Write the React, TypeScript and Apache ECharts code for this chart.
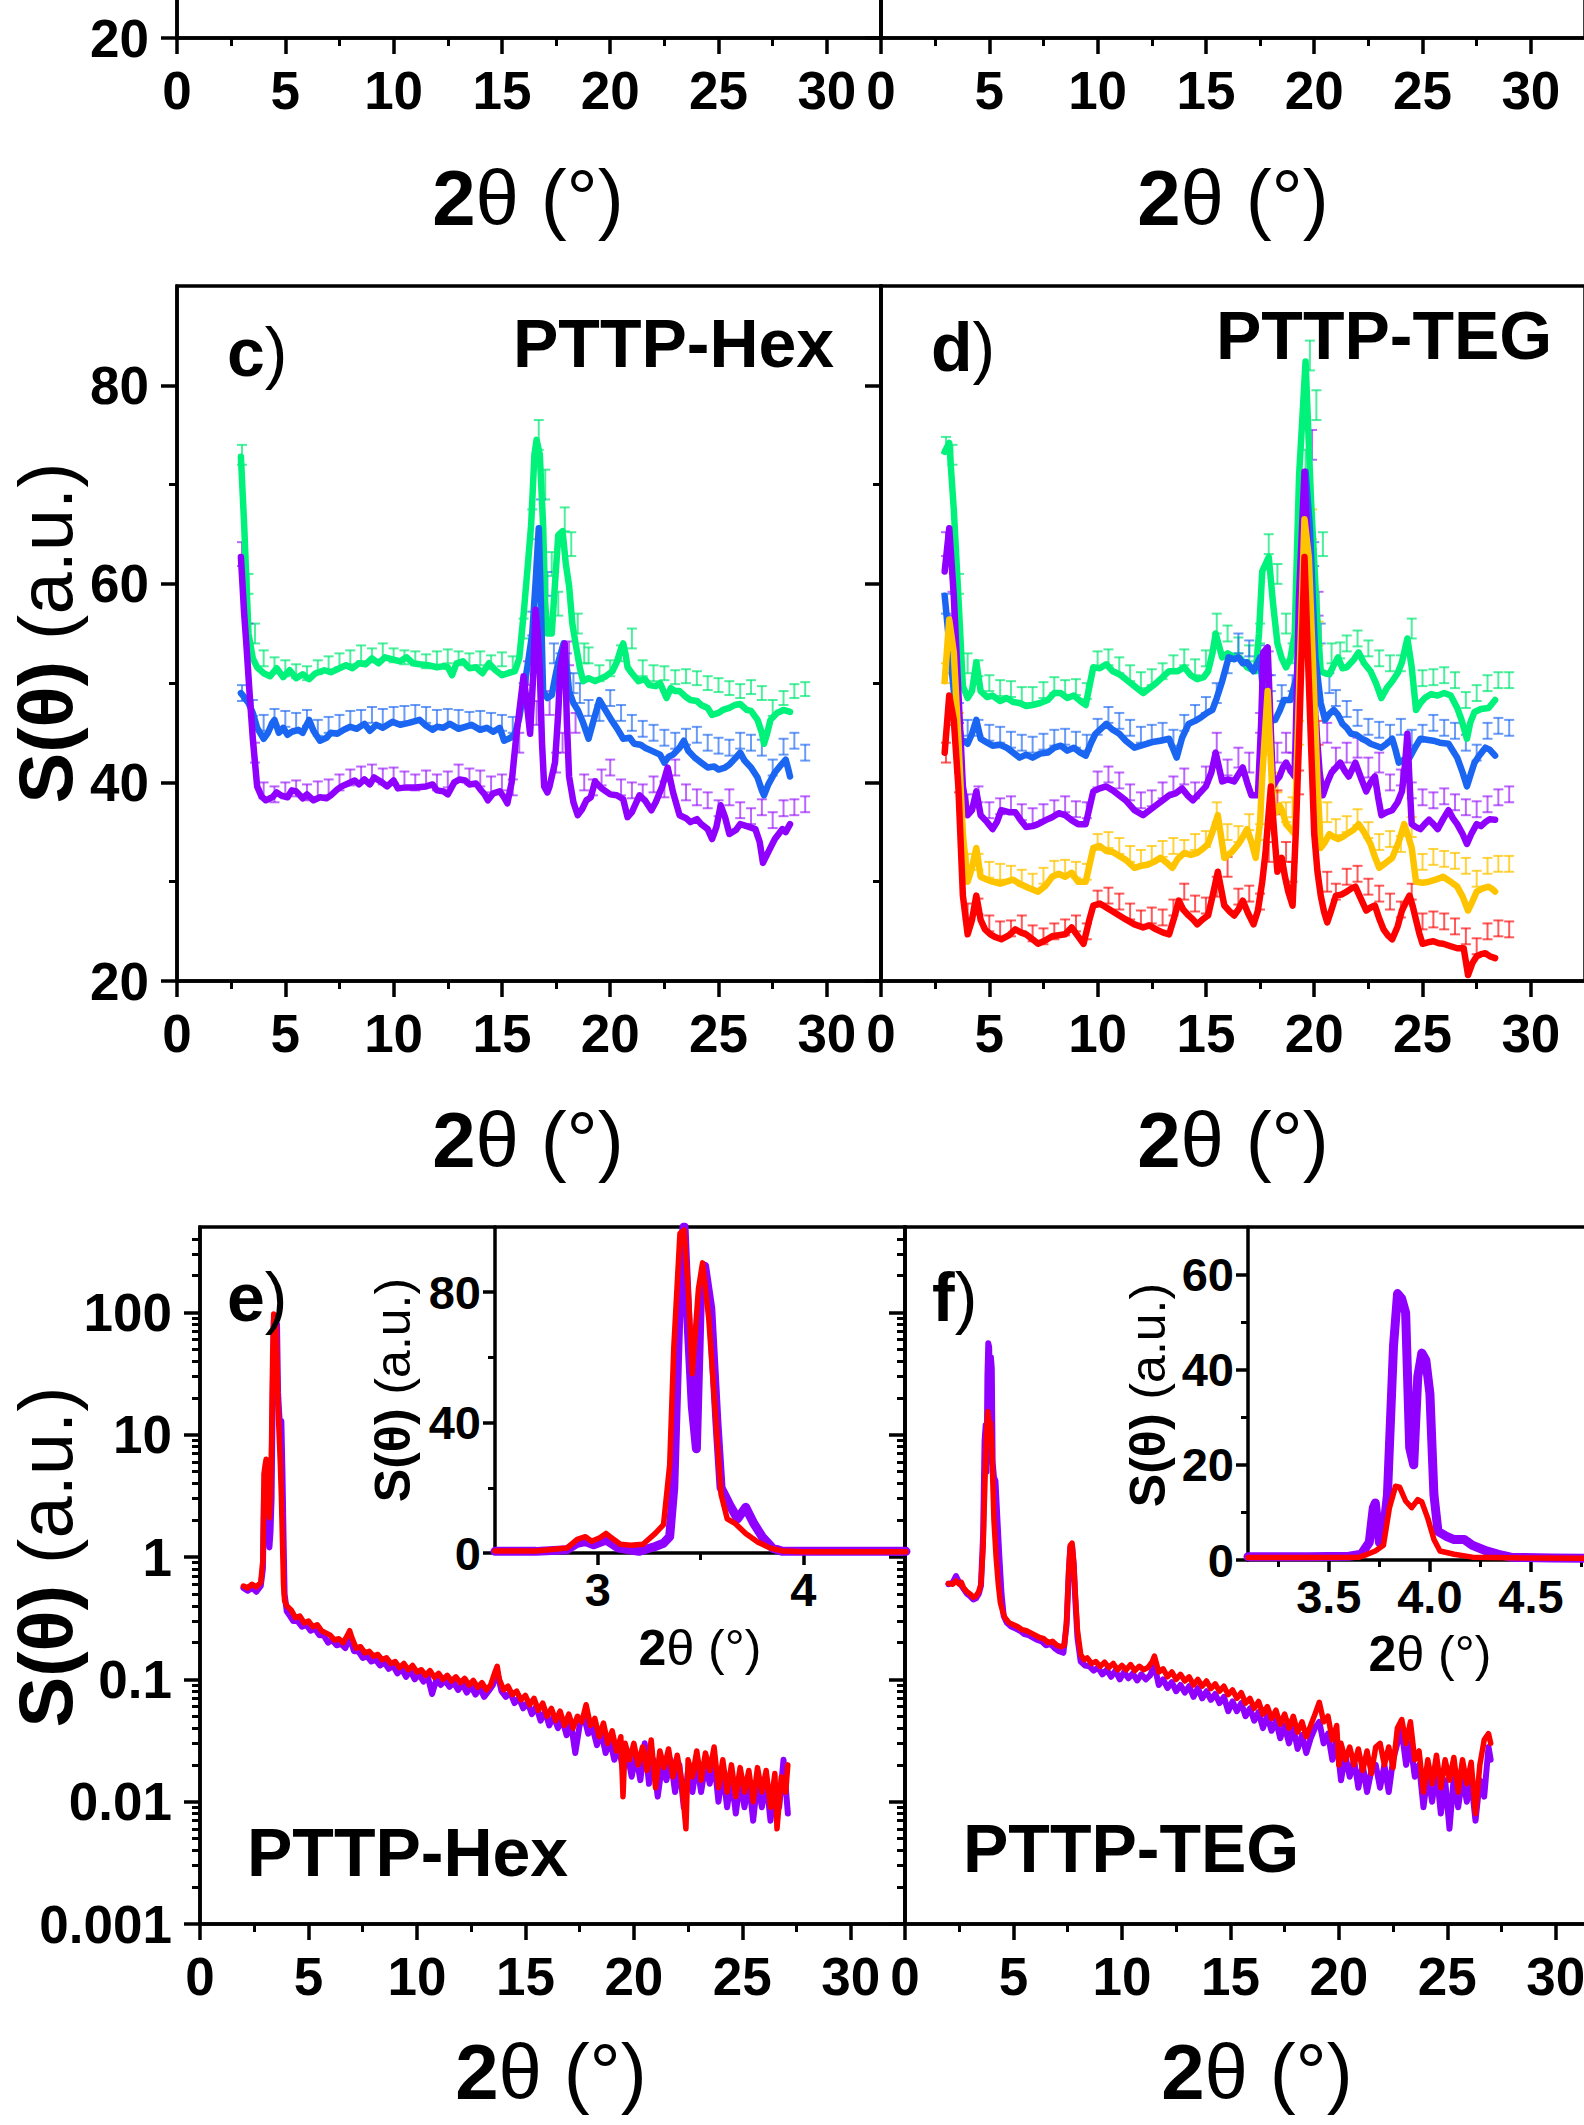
import React, { useEffect, useRef } from 'react';
import * as echarts from 'echarts';

const FONT = 'Liberation Sans';

// ---------- colours ----------
const C_GREEN = '#00F27A';
const C_BLUE = '#1A66F2';
const C_PURPLE = '#8F00FF';
const C_YELLOW = '#FFC400';
const C_RED = '#FF0000';
const E_GREEN = 'rgba(0,232,115,0.7)';
const E_BLUE = 'rgba(26,102,242,0.65)';
const E_PURPLE = 'rgba(143,0,255,0.6)';
const E_YELLOW = 'rgba(255,196,0,0.75)';
const E_RED = 'rgba(255,0,0,0.65)';

// ---------- tick values ----------
const xMajor = [0, 5, 10, 15, 20, 25, 30];
const xMinor = [2.5, 7.5, 12.5, 17.5, 22.5, 27.5];
const linMajor = [20, 40, 60, 80];
const linMinor = [30, 50, 70];
const topPanelLabels = [20];
const logMajor = [0.001, 0.01, 0.1, 1, 10, 100];
const logMinor = [
  0.002, 0.003, 0.004, 0.005, 0.006, 0.007, 0.008, 0.009,
  0.02, 0.03, 0.04, 0.05, 0.06, 0.07, 0.08, 0.09,
  0.2, 0.3, 0.4, 0.5, 0.6, 0.7, 0.8, 0.9,
  2, 3, 4, 5, 6, 7, 8, 9,
  20, 30, 40, 50, 60, 70, 80, 90,
  200, 300, 400,
];
const eInsetXMajor = [3, 4];
const eInsetXMinor = [3.5];
const eInsetYMajor = [0, 40, 80];
const eInsetYMinor = [20, 60];
const fInsetXMajor = [3.5, 4.0, 4.5];
const fInsetXMinor = [3.25, 3.75, 4.25, 4.75];
const fInsetYMajor = [0, 20, 40, 60];
const fInsetYMinor = [10, 30, 50];

// ---------- panel c (PTTP-Hex, linear) ----------
const cGreen = [[2.95,72.8],[3.1,66],[3.3,55],[3.5,52.5],[3.7,51.6],[4.0,51],[4.3,50.7],[4.6,51.5],[4.9,50.6],[5.2,51.3],[5.5,50.5],[5.8,50.9],[6.1,50.4],[6.4,51],[6.8,51.3],[7.1,51.1],[7.4,51.4],[7.8,51.8],[8.1,51.5],[8.4,52],[8.7,51.9],[9.0,52.5],[9.3,52],[9.6,52.6],[9.95,52.4],[10.3,52.2],[10.6,52.6],[10.9,52],[11.2,51.9],[11.6,51.8],[12.0,51.6],[12.3,51.7],[12.5,51.6],[12.7,50.8],[12.9,52],[13.2,52.2],[13.5,51.5],[13.8,51.6],[14.1,51],[14.4,52],[14.7,51.3],[15.0,50.8],[15.3,51],[15.6,51.2],[15.8,52.5],[16.0,56.9],[16.2,62],[16.35,66],[16.5,73],[16.6,74.5],[16.75,73],[16.9,66],[17.0,58],[17.1,55],[17.3,55],[17.45,60],[17.6,64.9],[17.8,65.3],[17.95,62],[18.1,59.8],[18.25,56],[18.4,54],[18.6,51.5],[18.75,50.2],[19.0,50.5],[19.3,50.2],[19.6,50.5],[19.8,50.7],[20.1,51.2],[20.3,52.1],[20.5,53.5],[20.6,54],[20.7,53],[20.8,51.6],[21.0,51],[21.3,50.2],[21.6,50.4],[21.8,49.8],[22.1,49.7],[22.3,50],[22.6,48.5],[22.8,49.5],[23.0,49.2],[23.2,49.2],[23.5,48.6],[23.7,48.3],[24.0,48.2],[24.2,47.8],[24.5,47.5],[24.7,46.8],[25.0,47],[25.2,47.3],[25.5,47.5],[25.75,47.8],[26.0,47.9],[26.3,47.3],[26.5,47.2],[26.8,46.3],[27.0,45],[27.1,43.9],[27.25,45],[27.4,46.3],[27.7,47],[28.0,47.3],[28.3,47.1]];
const cBlue = [[2.95,49],[3.1,48.6],[3.3,48],[3.5,47],[3.7,45.5],[4.0,44.4],[4.2,45],[4.4,46],[4.5,46.3],[4.7,45],[4.9,45.5],[5.1,44.8],[5.3,45.1],[5.6,45.3],[5.8,45],[6.1,46.3],[6.3,45.2],[6.6,44.2],[6.9,44.5],[7.1,45],[7.4,44.9],[7.7,45.3],[8.0,45.6],[8.3,45.4],[8.65,45.9],[8.9,45.2],[9.2,45.8],[9.5,45.5],[9.95,46.1],[10.3,45.8],[10.7,46],[11.2,46.3],[11.5,45.7],[11.8,45.3],[12.0,45.6],[12.3,45.5],[12.6,45.9],[13.0,45.4],[13.3,45.6],[13.6,45.8],[14.0,45.3],[14.3,45.5],[14.6,45.1],[14.9,45.5],[15.1,44.2],[15.4,44.5],[15.6,44.9],[15.8,46.5],[16.0,49.2],[16.2,52],[16.4,55],[16.55,60],[16.7,65.6],[16.8,58],[16.9,49.2],[17.1,48.5],[17.3,48.8],[17.45,50.5],[17.6,52.1],[17.85,54],[18.0,51.5],[18.1,49.2],[18.3,48],[18.5,47.3],[18.75,46],[19.0,44.4],[19.2,46],[19.5,48.3],[19.8,47.2],[20.05,46.3],[20.3,45.5],[20.6,44.4],[20.9,44.5],[21.1,43.9],[21.4,43.8],[21.6,43.5],[21.9,43.2],[22.1,43],[22.3,42.8],[22.5,42],[22.7,42.6],[22.9,42.8],[23.2,43.5],[23.4,44.2],[23.6,43.2],[23.9,42.5],[24.2,42],[24.5,41.5],[24.8,41.6],[25.0,41.3],[25.3,41.5],[25.5,41.8],[25.8,42.5],[26.0,43],[26.2,42.2],[26.5,41.5],[26.8,40.5],[27.0,39.2],[27.1,38.7],[27.3,39.8],[27.6,41],[27.9,41.8],[28.1,42.3],[28.2,41.5],[28.3,40.6]];
const cPurple = [[2.95,62.7],[3.1,57],[3.2,54],[3.35,49],[3.5,44.4],[3.7,39.6],[3.9,38.6],[4.1,38.2],[4.4,38.5],[4.6,39],[4.8,38.7],[5.1,38.5],[5.3,39.2],[5.5,39.1],[5.8,38.4],[6.0,38.8],[6.3,38.2],[6.6,38.5],[6.9,38.4],[7.1,38.7],[7.4,39.3],[7.6,39.6],[7.9,39.9],[8.2,40.2],[8.4,39.8],[8.65,40.3],[8.9,39.8],[9.1,40.5],[9.4,40.1],[9.7,39.6],[10.0,40.2],[10.2,39.4],[10.6,39.5],[11.0,39.5],[11.5,39.6],[11.8,39.8],[12.0,39.2],[12.3,39.1],[12.5,38.8],[12.8,40],[13.05,40.3],[13.3,40.2],[13.5,39.8],[13.8,39.9],[14.0,39.3],[14.2,38.8],[14.35,38.2],[14.6,38.9],[14.9,39.1],[15.1,38.5],[15.25,37.9],[15.45,40],[15.65,44.4],[15.85,48],[16.0,50.7],[16.15,48],[16.3,44.9],[16.45,51],[16.55,57.4],[16.65,55],[16.75,51.2],[16.85,44],[16.95,39.6],[17.1,39],[17.2,39.6],[17.45,42],[17.6,47],[17.7,51.6],[17.9,54],[18.0,46],[18.1,40.6],[18.3,38],[18.5,36.7],[18.7,37.3],[18.9,38.2],[19.1,38.5],[19.3,40.1],[19.6,39.4],[19.8,39.1],[20.0,38.8],[20.3,38.7],[20.6,38.3],[20.8,36.5],[21.0,37],[21.35,38.7],[21.6,38.2],[21.9,37.2],[22.1,38],[22.4,39.6],[22.65,41.5],[22.9,39],[23.2,36.7],[23.5,36.4],[23.7,36],[24.0,36.3],[24.2,35.8],[24.5,35.3],[24.7,34.3],[24.9,35.5],[25.1,37.7],[25.3,36.5],[25.5,34.8],[25.8,35.2],[26.0,35.8],[26.3,35.6],[26.7,35.3],[26.9,34],[27.05,31.9],[27.3,33],[27.6,34.3],[27.95,35.3],[28.1,35],[28.3,35.8]];
// error bars: [x, centre, half-error]
const cGreenErr = [[3.0,73,1],[3.3,60,1],[3.6,55,1],[4.0,52.5,0.8],[4.5,51.8,0.8],[5.0,51.5,0.8],[5.5,51.2,0.7],[6.0,51,0.7],[6.5,51.6,0.7],[7.0,52,0.7],[7.5,52.3,0.7],[8.0,52.6,0.7],[8.5,53,0.8],[9.0,52.8,0.7],[9.5,53.2,0.8],[10.0,52.8,0.7],[10.5,52.6,0.7],[11.0,52.5,0.7],[11.5,52.2,0.7],[12.0,52.5,0.7],[12.5,52.7,0.7],[13.0,52.5,0.7],[13.5,52.3,0.7],[14.0,52.5,0.7],[14.5,52.1,0.7],[15.0,52.4,0.7],[15.5,52,0.7],[16.0,55.5,1],[16.4,66,1.5],[16.7,75,1.5],[17.0,70,1.5],[17.3,62,1.2],[17.6,58,1.2],[17.9,66.5,1.2],[18.2,64,1.2],[18.5,56,1],[18.8,53,1],[19.0,52.8,0.8],[19.5,51,0.8],[20.0,51.5,0.8],[20.5,53,0.8],[21.0,54.5,1],[21.5,51.5,0.8],[22.0,51,0.8],[22.5,51,0.7],[23.0,50.6,0.7],[23.5,50.7,0.7],[24.0,50.5,0.7],[24.5,50,0.7],[25.0,49.8,0.7],[25.5,49.5,0.7],[26.0,49.2,0.7],[26.5,49.6,0.7],[27.0,49,0.7],[27.5,47.5,0.8],[28.0,48.5,0.7],[28.5,49.2,0.7],[29.0,49.4,0.7]];
const cBlueErr = [[3.0,49,0.8],[3.5,47.5,0.8],[4.0,46,0.8],[4.5,46.6,0.8],[5.0,46.4,0.8],[5.5,46.2,0.8],[6.0,46.5,0.8],[6.5,45.5,0.8],[7.0,45.8,0.8],[7.5,46,0.8],[8.0,46.4,0.8],[8.5,46.5,0.8],[9.0,46.8,0.8],[9.5,46.6,0.8],[10.0,46.8,0.8],[10.5,46.9,0.8],[11.0,47,0.8],[11.5,46.8,0.8],[12.0,46.5,0.8],[12.5,46.6,0.8],[13.0,46.5,0.8],[13.5,46.3,0.8],[14.0,46.4,0.8],[14.5,46.2,0.8],[15.0,46,0.8],[15.5,45.8,0.8],[16.0,49,1],[16.4,56,1.2],[16.8,67,1.5],[17.1,60,1.2],[17.4,53,1],[17.7,52,1],[18.0,52,1],[18.3,50,1],[18.6,49,1],[19.0,47.5,0.8],[19.5,47,0.8],[20.0,48.5,0.8],[20.5,47,0.8],[21.0,46,0.8],[21.5,45.4,0.8],[22.0,45,0.8],[22.5,44.5,0.8],[23.0,44.2,0.8],[23.5,44.6,0.8],[24.0,44.8,0.8],[24.5,44,0.8],[25.0,43.7,0.8],[25.5,43.5,0.8],[26.0,44.2,0.8],[26.5,44,0.8],[27.0,43.5,0.8],[27.5,41.5,0.8],[28.0,43.6,0.8],[28.5,44.2,0.8],[29.0,43,0.8]];
const cPurpleErr = [[3.0,63,1.2],[3.3,55,1],[3.6,43,1],[4.0,39.2,0.8],[4.5,38.8,0.8],[5.0,39.2,0.8],[5.5,39.4,0.8],[6.0,39,0.8],[6.5,39.3,0.8],[7.0,39.5,0.8],[7.5,40,0.8],[8.0,40.5,0.8],[8.5,40.8,0.8],[9.0,41,0.8],[9.5,40.6,0.8],[10.0,40.7,0.8],[10.5,40.3,0.8],[11.0,40,0.8],[11.5,40.4,0.8],[12.0,40,0.8],[12.5,40.3,0.8],[13.0,41,0.8],[13.5,40.6,0.8],[14.0,40.4,0.8],[14.5,39.8,0.8],[15.0,40,0.8],[15.5,39.5,0.8],[15.8,44,1],[16.2,51,1.2],[16.6,47,1.2],[16.9,58,1.5],[17.2,48,1.2],[17.5,42,1],[17.8,44,1],[18.1,53,1.2],[18.4,46,1],[18.8,40,0.8],[19.2,39.5,0.8],[19.6,40.5,0.8],[20.0,41.5,0.8],[20.5,39.5,0.8],[21.0,39.2,0.8],[21.5,39,0.8],[22.0,39.8,0.8],[22.5,39.3,0.8],[23.0,41.5,0.8],[23.5,39,0.8],[24.0,38.5,0.8],[24.5,38.2,0.8],[25.0,37.4,0.8],[25.5,38.5,0.8],[26.0,37.2,0.8],[26.5,36.6,0.8],[27.0,37.5,0.8],[27.5,36.2,0.8],[28.0,37.4,0.8],[28.5,37.5,0.8],[29.0,37.8,0.8]];

// ---------- panel d (PTTP-TEG, linear) ----------
const dGreen = [[2.94,73.3],[3.15,74.2],[3.36,67.5],[3.57,58.8],[3.78,49.7],[4.0,48.5],[4.2,49.2],[4.4,52.1],[4.6,49.2],[4.9,48.6],[5.15,48.75],[5.5,48.2],[5.8,48.5],[6.1,48.1],[6.4,48],[6.7,47.7],[7.0,47.8],[7.35,48],[7.7,48.3],[8.0,49],[8.3,49],[8.6,48.5],[8.9,48.75],[9.2,48.2],[9.45,47.8],[9.8,51.6],[10.1,51.5],[10.4,51.9],[10.7,51.2],[11.0,50.9],[11.3,50.4],[11.7,49.7],[12.1,49.0],[12.4,49.5],[12.7,50],[13.0,50.6],[13.3,51.2],[13.7,51.2],[14.0,51.6],[14.3,50.8],[14.6,50.4],[14.9,50.6],[15.1,51.2],[15.3,53],[15.45,55],[15.75,52.6],[16.0,53],[16.3,52.6],[16.6,52.5],[16.9,51.6],[17.3,51.2],[17.45,55],[17.6,61.25],[17.9,62.7],[18.1,58],[18.3,54],[18.5,52.5],[18.7,51.6],[18.9,52.5],[19.1,55],[19.3,70.9],[19.6,82.4],[19.85,68.5],[20.1,57.9],[20.3,51.2],[20.5,51],[20.7,50.9],[20.9,51.8],[21.1,52.6],[21.3,51.5],[21.5,51.6],[21.8,52.3],[22.05,53.1],[22.3,52],[22.6,51.2],[22.85,50],[23.1,48.5],[23.35,49.5],[23.6,50.2],[23.85,51],[24.05,52.1],[24.3,54.5],[24.5,51.6],[24.7,47.3],[24.9,48],[25.1,48.5],[25.4,48.9],[25.7,48.75],[26.0,49],[26.3,48.75],[26.6,47.5],[26.8,46.3],[27.05,44.4],[27.2,46],[27.4,47.1],[27.7,47.4],[28.05,47.5],[28.35,48.3]];
const dBlue = [[2.94,58.8],[3.15,54],[3.36,49.2],[3.7,44.4],[4.0,43.9],[4.2,44.9],[4.4,46.3],[4.6,44.4],[4.9,44],[5.15,43.7],[5.5,43.8],[5.8,43.5],[6.1,43],[6.4,42.5],[6.7,42.8],[7.0,42.5],[7.35,42.9],[7.7,43],[8.0,43.5],[8.3,43.7],[8.6,43.2],[8.9,43.5],[9.2,43],[9.45,42.7],[9.7,44],[9.9,44.9],[10.2,45.5],[10.4,45.9],[10.7,45.3],[11.0,44.9],[11.3,44.2],[11.7,43.5],[12.0,43.7],[12.3,43.9],[12.6,44.1],[12.9,44.2],[13.3,44.4],[13.5,43.3],[13.65,42.5],[13.9,44.5],[14.2,45.9],[14.5,46.2],[14.8,46.6],[15.05,47],[15.3,47.3],[15.5,48.5],[15.75,50.2],[16.05,52.6],[16.3,52.4],[16.5,52.6],[16.7,52],[16.9,52.1],[17.2,51.2],[17.5,52.6],[17.75,46.3],[18.0,46.2],[18.2,46.3],[18.4,47.2],[18.6,48.3],[18.9,48.3],[19.2,50.7],[19.4,58.8],[19.6,71.3],[19.8,65.6],[20.05,52.6],[20.3,48],[20.5,46.3],[20.7,46.9],[20.9,47.3],[21.1,46.8],[21.3,45.9],[21.5,45.5],[21.7,44.9],[21.95,44.8],[22.2,44.4],[22.4,44.2],[22.6,43.9],[22.85,43.7],[23.1,43.5],[23.35,43.9],[23.6,44.4],[23.75,43.3],[23.9,42],[24.15,42.3],[24.4,42.5],[24.65,43.5],[24.9,44.4],[25.2,44.3],[25.5,44.2],[25.8,44],[26.2,43.9],[26.4,43.2],[26.6,42.5],[26.85,41],[27.05,39.6],[27.25,41],[27.4,42],[27.65,42.8],[27.9,43.5],[28.1,43.3],[28.35,42.7]];
const dPurple = [[2.94,61.25],[3.15,65.6],[3.36,58.8],[3.57,49.2],[3.78,39.6],[4.0,36.7],[4.2,37.2],[4.4,39.1],[4.6,36.7],[4.9,36],[5.15,35.3],[5.35,36],[5.55,37.2],[5.9,37],[6.2,37],[6.45,36.2],[6.7,35.5],[7.0,35.6],[7.25,35.8],[7.6,36.2],[7.9,36.5],[8.2,36.9],[8.5,36.7],[8.8,36.2],[9.1,35.8],[9.45,35.8],[9.8,39.1],[10.1,39.4],[10.4,39.6],[10.7,39.2],[11.0,38.7],[11.3,38.2],[11.7,37.2],[12.1,36.7],[12.4,37.2],[12.7,37.7],[13.0,38.2],[13.3,38.7],[13.6,38.9],[13.9,39.4],[14.15,38.7],[14.4,38.2],[14.7,38.9],[15.0,39.6],[15.25,41],[15.45,43],[15.75,40.1],[16.0,40.3],[16.3,40.1],[16.5,40.8],[16.7,41.5],[16.9,40],[17.1,38.7],[17.4,38.7],[17.55,46],[17.65,53.1],[17.85,53.6],[18.0,45],[18.1,39.6],[18.25,40.2],[18.4,40.6],[18.55,41.5],[18.7,42],[18.9,41.2],[19.1,40.6],[19.3,58.8],[19.55,71.3],[19.75,61.25],[20.05,46.8],[20.25,41],[20.4,38.7],[20.6,40],[20.8,41],[21.0,41.5],[21.2,42],[21.4,41.2],[21.6,40.6],[21.75,41.3],[21.9,42],[22.15,40.5],[22.4,39.1],[22.6,40],[22.8,40.6],[22.95,38.5],[23.1,36.7],[23.35,37],[23.6,37.2],[23.85,38],[24.05,39.1],[24.2,42],[24.3,44.9],[24.4,40],[24.5,35.8],[24.7,35.5],[24.9,35.3],[25.1,35.8],[25.3,36.25],[25.5,35.8],[25.7,35.3],[25.95,36.3],[26.2,37.2],[26.4,36.4],[26.6,35.8],[26.85,34.8],[27.05,33.8],[27.25,34.8],[27.5,35.8],[27.7,35.6],[27.9,36],[28.1,36.3],[28.35,36.25]];
const dYellow = [[2.94,50.2],[3.15,56.4],[3.36,53.1],[3.57,44.4],[3.78,34.8],[4.0,30],[4.2,31.4],[4.4,33.4],[4.6,30.5],[4.9,30.2],[5.15,30],[5.5,29.8],[5.8,30],[6.1,30.2],[6.4,29.8],[6.8,29.4],[7.25,29],[7.6,29.6],[7.9,30.5],[8.2,30.8],[8.5,30.5],[8.8,30.9],[9.1,30],[9.45,30],[9.8,33.4],[10.1,33.6],[10.4,33.1],[10.7,33],[11.0,32.6],[11.3,32.2],[11.7,31.4],[12.0,31.6],[12.3,31.7],[12.6,32],[12.9,32.4],[13.2,31.9],[13.45,31.4],[13.7,32.3],[14.0,32.9],[14.3,32.7],[14.6,32.9],[14.85,33.3],[15.1,33.8],[15.3,35],[15.55,36.7],[15.85,32.4],[16.2,33],[16.5,33.8],[16.7,34.5],[16.9,35.3],[17.1,34],[17.3,32.4],[17.5,36],[17.6,40.6],[17.85,49.2],[18.1,37.2],[18.25,37],[18.4,37.7],[18.55,37],[18.7,35.8],[18.9,35.3],[19.1,34.8],[19.3,49.2],[19.55,66.5],[19.75,62.7],[19.95,51.6],[20.15,40],[20.3,33.4],[20.5,34],[20.7,34.8],[20.9,34.5],[21.1,34.3],[21.3,34.5],[21.5,34.8],[21.8,35.2],[22.05,35.8],[22.3,35],[22.6,33.8],[22.8,32.5],[23.0,31.4],[23.3,31.9],[23.6,32.4],[23.9,34],[24.15,35.8],[24.35,34.5],[24.5,33.4],[24.7,30],[25.0,29.9],[25.3,30],[25.6,30.2],[25.95,30.5],[26.3,30],[26.6,29.5],[26.85,28.5],[27.1,27.1],[27.3,28],[27.5,29],[27.75,29.3],[28.05,29.5],[28.2,29.3],[28.35,29]];
const dRed = [[2.94,43],[3.15,48.75],[3.36,46.3],[3.57,39.6],[3.78,28.6],[4.0,24.7],[4.2,26.15],[4.4,28.6],[4.6,26.15],[4.8,25.2],[5.05,24.7],[5.3,24.4],[5.55,24.2],[5.9,24.6],[6.2,25.2],[6.45,24.9],[6.7,24.7],[7.0,24.2],[7.25,23.75],[7.6,24.1],[7.9,24.5],[8.2,24.6],[8.5,24.7],[8.8,25.4],[9.1,24.5],[9.35,23.75],[9.6,26],[9.8,27.6],[10.1,27.8],[10.4,27.4],[10.7,27],[11.0,26.6],[11.3,26.2],[11.7,25.7],[12.1,25.4],[12.4,25.6],[12.7,25.2],[13.0,24.9],[13.3,24.7],[13.55,26.5],[13.75,28.1],[13.95,27.2],[14.2,26.6],[14.4,26.2],[14.6,25.7],[14.85,26.2],[15.1,26.6],[15.3,28.5],[15.55,31],[15.85,27.6],[16.1,27],[16.3,26.6],[16.5,27.2],[16.7,28.1],[16.95,26.8],[17.2,25.7],[17.4,27.1],[17.6,30],[17.75,32.9],[17.9,37],[18.0,39.6],[18.15,35],[18.3,31],[18.5,32.4],[18.65,30.5],[18.8,29],[19.0,27.6],[19.15,35],[19.3,44.4],[19.55,62.7],[19.75,50.2],[20.0,34.8],[20.15,31],[20.3,28.6],[20.45,27],[20.6,25.9],[20.8,27.2],[21.0,28.6],[21.25,28.7],[21.5,29],[21.7,29.3],[21.9,29.5],[22.15,28.3],[22.4,27.1],[22.6,27.4],[22.8,27.6],[23.0,26.3],[23.2,25.2],[23.4,24.6],[23.6,24.2],[23.85,25.5],[24.05,27.1],[24.25,28],[24.4,28.6],[24.55,27.5],[24.7,26.15],[24.85,24.8],[25.0,23.75],[25.25,23.9],[25.5,24],[25.75,23.8],[25.95,23.75],[26.3,23.5],[26.6,23.3],[26.9,23.3],[27.1,20.6],[27.3,21.8],[27.5,22.5],[27.7,22.7],[27.9,22.8],[28.1,22.5],[28.35,22.3]];
const dGreenErr = [[3.0,74,0.8],[3.3,73,1],[3.6,60,1],[4.0,52,1],[4.5,51.5,0.8],[5.0,50,0.8],[5.5,49.5,0.8],[6.0,49.4,0.8],[6.5,48.8,0.8],[7.0,48.8,0.8],[7.5,49.3,0.8],[8.0,49.8,0.8],[8.5,49.5,0.8],[9.0,49.6,0.8],[9.5,49.2,0.8],[10.0,52.4,0.8],[10.5,52.6,0.8],[11.0,51.8,0.8],[11.5,51,0.8],[12.0,50.3,0.8],[12.5,50.6,0.8],[13.0,51.2,0.8],[13.5,52,0.8],[14.0,52.6,0.8],[14.5,51.6,0.8],[15.0,52.5,0.8],[15.5,56,1],[16.0,55,0.8],[16.5,53.8,0.8],[17.0,53,0.8],[17.5,55,1],[17.9,64,1],[18.3,61,1],[18.7,56,1],[19.0,53,1],[19.3,56,1],[19.6,72,1.5],[19.8,83,1.5],[20.1,78,1.5],[20.4,64,1.2],[20.8,53,1],[21.2,53.3,0.8],[21.5,54,0.8],[22.0,54.5,0.8],[22.5,53.5,0.8],[23.0,52.5,0.8],[23.5,52,0.8],[24.0,52,0.8],[24.5,55.5,1],[25.0,50.5,0.8],[25.5,50.6,0.8],[26.0,50.8,0.8],[26.5,50.3,0.8],[27.0,48.3,0.8],[27.5,49,0.8],[28.0,50,0.8],[28.5,50.3,0.8],[29.0,50.3,0.8]];
const dBlueErr = [[3.0,58,1],[3.3,52,1],[3.6,47,1],[4.0,45.5,0.8],[4.5,45.5,0.8],[5.0,45,0.8],[5.5,44.8,0.8],[6.0,44.3,0.8],[6.5,44,0.8],[7.0,43.8,0.8],[7.5,44.1,0.8],[8.0,44.5,0.8],[8.5,44.6,0.8],[9.0,44.3,0.8],[9.5,44,0.8],[10.0,45.6,0.8],[10.5,46.8,0.8],[11.0,46.2,0.8],[11.5,45.5,0.8],[12.0,44.8,0.8],[12.5,45,0.8],[13.0,45.2,0.8],[13.5,44.5,0.8],[14.0,46,0.8],[14.5,47,0.8],[15.0,47.8,0.8],[15.5,49,1],[16.0,52,1],[16.5,54,1],[17.0,53.5,0.8],[17.5,53,0.8],[18.0,50,0.8],[18.5,49,0.8],[19.0,50,0.8],[19.4,55,1],[19.7,68,1.5],[20.0,63,1.2],[20.3,55,1],[20.7,50,1],[21.0,48.5,0.8],[21.5,47.4,0.8],[22.0,46.5,0.8],[22.5,45.6,0.8],[23.0,45.3,0.8],[23.5,45,0.8],[24.0,45.6,0.8],[24.5,44.5,0.8],[25.0,45,0.8],[25.5,46,0.8],[26.0,45.5,0.8],[26.5,45.2,0.8],[27.0,44,0.8],[27.5,43,0.8],[28.0,45.2,0.8],[28.5,45.7,0.8],[29.0,45.5,0.8]];
const dPurpleErr = [[3.0,64,1.2],[3.3,58,1.2],[3.6,45,1],[4.0,38,0.8],[4.5,38.8,0.8],[5.0,37.2,0.8],[5.5,37.6,0.8],[6.0,37.8,0.8],[6.5,37,0.8],[7.0,36.6,0.8],[7.5,37,0.8],[8.0,37.4,0.8],[8.5,37.8,0.8],[9.0,37.3,0.8],[9.5,37.2,0.8],[10.0,40.3,0.8],[10.5,40.8,0.8],[11.0,40.2,0.8],[11.5,39,0.8],[12.0,38.2,0.8],[12.5,38.4,0.8],[13.0,39.2,0.8],[13.5,39.8,0.8],[14.0,40.6,0.8],[14.5,39.2,0.8],[15.0,40.8,0.8],[15.5,44,1],[16.0,41.5,0.8],[16.5,42.5,1],[17.0,42,1],[17.5,46,1],[17.9,52,1.2],[18.3,43,1],[18.7,44,1],[19.0,42,1],[19.3,52,1.2],[19.6,68,1.5],[19.9,74,1.5],[20.2,58,1.2],[20.6,45,1],[21.0,42.5,1],[21.5,43,1],[22.0,43.5,1],[22.5,41.5,1],[23.0,42,1],[23.5,40,0.8],[24.0,40.5,0.8],[24.5,39.2,0.8],[25.0,38.5,0.8],[25.5,38.2,0.8],[26.0,38.6,0.8],[26.5,38,0.8],[27.0,37.5,0.8],[27.5,37.3,0.8],[28.0,37.8,0.8],[28.5,38.5,0.8],[29.0,38.8,0.8]];
const dYellowErr = [[3.0,51,1],[3.3,55,1.2],[3.6,46,1],[4.0,32,0.8],[4.5,32,0.8],[5.0,31.2,0.8],[5.5,31,0.8],[6.0,30.8,0.8],[6.5,30.4,0.8],[7.0,30,0.8],[7.5,30.6,0.8],[8.0,31.3,0.8],[8.5,31.4,0.8],[9.0,31.2,0.8],[9.5,31,0.8],[10.0,34,0.8],[10.5,34.2,0.8],[11.0,33.6,0.8],[11.5,32.8,0.8],[12.0,32.4,0.8],[12.5,32.8,0.8],[13.0,33.3,0.8],[13.5,33.6,0.8],[14.0,33.4,0.8],[14.5,34,0.8],[15.0,34.3,0.8],[15.5,37,1],[16.0,35,0.8],[16.5,34.8,0.8],[17.0,36,0.8],[17.5,35,0.8],[17.9,44,1.2],[18.3,40,1],[18.7,37,1],[19.0,37.5,1],[19.3,45,1.2],[19.6,60,1.5],[19.9,66,1.5],[20.2,55,1.2],[20.6,37,1],[21.0,35.5,0.8],[21.5,35.8,0.8],[22.0,36.5,0.8],[22.5,35.2,0.8],[23.0,34,0.8],[23.5,34.3,0.8],[24.0,33.8,0.8],[24.5,35.5,1],[25.0,32,0.8],[25.5,32.5,0.8],[26.0,32.3,0.8],[26.5,32.1,0.8],[27.0,31.6,0.8],[27.5,30.3,0.8],[28.0,31.6,0.8],[28.5,31.8,0.8],[29.0,31.8,0.8]];
const dRedErr = [[3.0,43,1],[3.3,47,1.2],[3.6,40,1],[4.0,27,0.8],[4.5,27.5,0.8],[5.0,25.8,0.8],[5.5,25.2,0.8],[6.0,25.3,0.8],[6.5,25.8,0.8],[7.0,24.8,0.8],[7.5,24.5,0.8],[8.0,25,0.8],[8.5,25.4,0.8],[9.0,25.8,0.8],[9.5,25,0.8],[10.0,28.3,0.8],[10.5,28.6,0.8],[11.0,28,0.8],[11.5,27,0.8],[12.0,26.3,0.8],[12.5,26.6,0.8],[13.0,26.4,0.8],[13.5,27.4,0.8],[14.0,29,0.8],[14.5,27.8,0.8],[15.0,27.6,0.8],[15.5,29.5,1],[16.0,31.5,1],[16.5,28.5,0.8],[17.0,28.8,0.8],[17.5,28,0.8],[17.9,33,1],[18.3,38,1.2],[18.7,33,1],[19.0,31,1],[19.3,40,1.2],[19.6,55,1.5],[19.9,62,1.5],[20.2,45,1.2],[20.6,30,1],[21.0,29,0.8],[21.5,30.5,0.8],[22.0,30.8,0.8],[22.5,29.5,0.8],[23.0,28.8,0.8],[23.5,28,0.8],[24.0,27.2,0.8],[24.5,29,0.8],[25.0,26,0.8],[25.5,26.2,0.8],[26.0,26,0.8],[26.5,25.5,0.8],[27.0,24.5,0.8],[27.5,23.5,0.8],[28.0,25,0.8],[28.5,25.3,0.8],[29.0,25.2,0.8]];

// ---------- panel e (PTTP-Hex, log) ----------
const eRed = [[2.0,0.58],[2.2,0.56],[2.4,0.6],[2.6,0.57],[2.8,0.62],[2.9,0.95],[2.95,4.8],[3.0,5.6],[3.05,6.3],[3.1,5.5],[3.15,2.6],[3.2,2.1],[3.25,3.2],[3.3,9],[3.35,45],[3.4,97],[3.45,60],[3.5,85],[3.55,40],[3.6,16],[3.65,10],[3.7,6],[3.75,3.2],[3.8,1.4],[3.85,0.6],[3.9,0.44],[4.0,0.4],[4.2,0.37],[4.4,0.32],[4.6,0.33],[4.8,0.29],[5.0,0.3],[5.2,0.27],[5.4,0.28],[5.6,0.25],[5.8,0.24],[6.0,0.23],[6.2,0.21],[6.4,0.215],[6.6,0.2],[6.8,0.23],[6.9,0.25],[7.0,0.22],[7.2,0.18],[7.4,0.185],[7.6,0.165],[7.8,0.17],[8.0,0.155],[8.2,0.16],[8.4,0.145],[8.6,0.15],[8.8,0.135],[9.0,0.14],[9.2,0.125],[9.4,0.135],[9.6,0.12],[9.8,0.13],[10.0,0.115],[10.2,0.12],[10.4,0.108],[10.6,0.118],[10.8,0.104],[11.0,0.112],[11.2,0.1],[11.4,0.108],[11.6,0.097],[11.8,0.105],[12.0,0.094],[12.2,0.102],[12.4,0.09],[12.6,0.098],[12.8,0.086],[13.0,0.094],[13.2,0.082],[13.4,0.09],[13.6,0.115],[13.7,0.128],[13.8,0.1],[14.0,0.082],[14.2,0.088],[14.4,0.075],[14.6,0.08],[14.8,0.068],[15.0,0.074],[15.2,0.062],[15.4,0.07],[15.6,0.056],[15.8,0.064],[16.0,0.05],[16.2,0.058],[16.4,0.046],[16.6,0.055],[16.8,0.042],[17.0,0.052],[17.2,0.04],[17.4,0.05],[17.6,0.045],[17.8,0.062],[18.0,0.042],[18.2,0.048],[18.4,0.034],[18.6,0.044],[18.8,0.03],[19.0,0.038],[19.2,0.026],[19.4,0.034],[19.5,0.011],[19.6,0.03],[19.8,0.022],[20.0,0.03],[20.2,0.02],[20.4,0.028],[20.6,0.018],[20.8,0.032],[21.0,0.013],[21.2,0.026],[21.4,0.019],[21.6,0.027],[21.8,0.016],[22.0,0.024],[22.2,0.015],[22.4,0.006],[22.5,0.022],[22.7,0.016],[22.9,0.026],[23.1,0.015],[23.3,0.025],[23.5,0.018],[23.7,0.028],[23.9,0.013],[24.1,0.022],[24.3,0.012],[24.5,0.02],[24.7,0.011],[24.9,0.019],[25.1,0.012],[25.3,0.018],[25.5,0.01],[25.7,0.019],[25.9,0.012],[26.1,0.018],[26.3,0.009],[26.5,0.017],[26.6,0.006],[26.8,0.016],[27.0,0.012],[27.1,0.02]];
const ePurple = [[2.0,0.56],[2.2,0.53],[2.4,0.56],[2.6,0.52],[2.8,0.58],[2.9,0.8],[2.95,3],[3.0,3.6],[3.05,4.5],[3.1,3.4],[3.15,1.6],[3.2,1.2],[3.25,1.6],[3.3,3],[3.35,20],[3.4,85],[3.45,50],[3.5,35],[3.55,80],[3.6,22],[3.65,15],[3.7,11],[3.75,13],[3.8,5],[3.85,1.5],[3.9,0.5],[4.0,0.36],[4.1,0.34],[4.3,0.3],[4.5,0.3],[4.7,0.27],[4.9,0.28],[5.1,0.25],[5.3,0.26],[5.5,0.23],[5.7,0.23],[5.9,0.2],[6.1,0.21],[6.3,0.19],[6.5,0.195],[6.7,0.18],[6.9,0.22],[7.1,0.17],[7.3,0.17],[7.5,0.15],[7.7,0.155],[7.9,0.14],[8.1,0.145],[8.3,0.13],[8.5,0.138],[8.7,0.122],[8.9,0.13],[9.1,0.112],[9.3,0.122],[9.5,0.105],[9.7,0.118],[9.9,0.1],[10.1,0.11],[10.3,0.096],[10.5,0.105],[10.7,0.076],[10.9,0.1],[11.1,0.09],[11.3,0.098],[11.5,0.087],[11.7,0.094],[11.9,0.082],[12.1,0.092],[12.3,0.078],[12.5,0.088],[12.7,0.075],[12.9,0.085],[13.1,0.072],[13.3,0.08],[13.5,0.09],[13.7,0.115],[13.9,0.08],[14.1,0.072],[14.3,0.078],[14.5,0.064],[14.7,0.07],[14.9,0.058],[15.1,0.065],[15.3,0.052],[15.5,0.06],[15.7,0.046],[15.9,0.055],[16.1,0.042],[16.3,0.05],[16.5,0.04],[16.7,0.047],[16.9,0.035],[17.1,0.044],[17.3,0.025],[17.5,0.042],[17.7,0.05],[17.9,0.036],[18.1,0.04],[18.3,0.029],[18.5,0.037],[18.7,0.025],[18.9,0.032],[19.1,0.022],[19.3,0.029],[19.5,0.018],[19.7,0.025],[19.9,0.016],[20.1,0.024],[20.3,0.015],[20.5,0.03],[20.7,0.014],[20.9,0.022],[21.1,0.011],[21.3,0.02],[21.5,0.015],[21.7,0.022],[21.9,0.012],[22.1,0.02],[22.3,0.009],[22.5,0.018],[22.7,0.012],[22.9,0.021],[23.1,0.012],[23.3,0.02],[23.5,0.014],[23.7,0.022],[23.9,0.01],[24.1,0.018],[24.3,0.009],[24.5,0.016],[24.7,0.008],[24.9,0.015],[25.1,0.009],[25.3,0.015],[25.5,0.007],[25.7,0.015],[25.9,0.009],[26.1,0.015],[26.3,0.007],[26.5,0.014],[26.7,0.009],[26.9,0.022],[27.1,0.008]];

// ---------- panel f (PTTP-TEG, log) ----------
const fRed = [[2.0,0.61],[2.2,0.6],[2.35,0.64],[2.5,0.6],[2.6,0.62],[2.7,0.56],[2.86,0.52],[3.0,0.5],[3.15,0.47],[3.27,0.48],[3.4,0.52],[3.5,0.6],[3.6,1.2],[3.67,3.3],[3.75,10],[3.82,15.5],[3.88,12.4],[3.94,12.5],[4.0,8.5],[4.05,4],[4.1,2],[4.2,1],[4.3,0.6],[4.4,0.42],[4.5,0.36],[4.6,0.32],[4.8,0.29],[5.0,0.28],[5.2,0.27],[5.4,0.255],[5.6,0.25],[5.8,0.24],[6.0,0.23],[6.2,0.22],[6.4,0.215],[6.6,0.2],[6.8,0.205],[7.0,0.19],[7.2,0.185],[7.35,0.19],[7.45,0.3],[7.55,0.8],[7.62,1.25],[7.7,1.3],[7.78,0.9],[7.85,0.5],[7.95,0.25],[8.1,0.16],[8.25,0.145],[8.4,0.15],[8.6,0.135],[8.8,0.14],[9.0,0.128],[9.2,0.138],[9.4,0.125],[9.6,0.135],[9.8,0.12],[10.0,0.13],[10.2,0.12],[10.4,0.132],[10.6,0.118],[10.8,0.128],[11.0,0.12],[11.2,0.125],[11.4,0.14],[11.5,0.155],[11.7,0.115],[11.9,0.122],[12.1,0.105],[12.3,0.115],[12.5,0.1],[12.7,0.11],[12.9,0.097],[13.1,0.105],[13.3,0.09],[13.5,0.1],[13.7,0.088],[13.9,0.097],[14.1,0.084],[14.3,0.092],[14.5,0.08],[14.7,0.088],[14.9,0.075],[15.1,0.082],[15.3,0.07],[15.5,0.078],[15.7,0.064],[15.9,0.07],[16.1,0.058],[16.3,0.066],[16.5,0.052],[16.7,0.06],[16.9,0.048],[17.1,0.056],[17.3,0.043],[17.5,0.052],[17.7,0.04],[17.9,0.05],[18.1,0.037],[18.3,0.045],[18.5,0.034],[18.7,0.042],[18.9,0.052],[19.1,0.065],[19.3,0.045],[19.5,0.05],[19.7,0.032],[19.9,0.042],[20.0,0.02],[20.1,0.03],[20.3,0.022],[20.5,0.028],[20.7,0.02],[20.9,0.027],[21.1,0.018],[21.3,0.026],[21.5,0.017],[21.7,0.028],[21.9,0.03],[22.1,0.02],[22.3,0.028],[22.5,0.019],[22.7,0.04],[22.9,0.047],[23.1,0.03],[23.3,0.045],[23.5,0.022],[23.7,0.026],[23.9,0.012],[24.1,0.022],[24.3,0.014],[24.5,0.024],[24.7,0.013],[24.9,0.022],[25.1,0.015],[25.3,0.023],[25.5,0.012],[25.7,0.022],[25.9,0.014],[26.1,0.021],[26.3,0.008],[26.5,0.02],[26.7,0.032],[26.9,0.036],[27.0,0.03]];
const fPurple = [[2.0,0.6],[2.2,0.62],[2.35,0.7],[2.5,0.62],[2.7,0.55],[2.86,0.5],[3.0,0.48],[3.15,0.45],[3.27,0.46],[3.4,0.5],[3.5,0.58],[3.6,1.5],[3.67,9],[3.72,12],[3.76,5],[3.8,30],[3.84,56],[3.88,52],[3.92,22],[3.96,43],[4.0,35],[4.04,6],[4.1,4.5],[4.17,4.2],[4.25,2.2],[4.35,1],[4.45,0.5],[4.55,0.33],[4.7,0.29],[4.9,0.27],[5.1,0.26],[5.3,0.25],[5.5,0.235],[5.7,0.23],[5.9,0.22],[6.1,0.21],[6.3,0.205],[6.5,0.19],[6.7,0.195],[6.9,0.18],[7.1,0.17],[7.3,0.165],[7.45,0.28],[7.55,0.75],[7.62,1.2],[7.7,1.25],[7.78,0.85],[7.85,0.45],[7.95,0.22],[8.1,0.14],[8.3,0.13],[8.5,0.128],[8.7,0.118],[8.9,0.125],[9.1,0.11],[9.3,0.12],[9.5,0.105],[9.7,0.118],[9.9,0.1],[10.1,0.115],[10.3,0.102],[10.5,0.112],[10.7,0.098],[10.9,0.11],[11.1,0.1],[11.3,0.108],[11.5,0.13],[11.7,0.09],[11.9,0.1],[12.1,0.085],[12.3,0.095],[12.5,0.08],[12.7,0.09],[12.9,0.078],[13.1,0.088],[13.3,0.072],[13.5,0.085],[13.7,0.07],[13.9,0.08],[14.1,0.068],[14.3,0.076],[14.5,0.064],[14.7,0.072],[14.9,0.055],[15.1,0.066],[15.3,0.055],[15.5,0.064],[15.7,0.05],[15.9,0.058],[16.1,0.046],[16.3,0.054],[16.5,0.04],[16.7,0.05],[16.9,0.038],[17.1,0.046],[17.3,0.033],[17.5,0.042],[17.7,0.03],[17.9,0.04],[18.1,0.027],[18.3,0.035],[18.5,0.025],[18.7,0.033],[18.9,0.04],[19.1,0.045],[19.3,0.03],[19.5,0.036],[19.7,0.022],[19.9,0.032],[20.1,0.015],[20.3,0.024],[20.5,0.016],[20.7,0.022],[20.9,0.013],[21.1,0.02],[21.3,0.012],[21.5,0.018],[21.7,0.02],[21.9,0.013],[22.1,0.02],[22.3,0.012],[22.5,0.022],[22.7,0.03],[22.9,0.038],[23.1,0.02],[23.3,0.03],[23.5,0.016],[23.7,0.02],[23.9,0.009],[24.1,0.017],[24.3,0.01],[24.5,0.018],[24.7,0.008],[24.9,0.015],[25.1,0.006],[25.3,0.016],[25.5,0.009],[25.7,0.016],[25.9,0.01],[26.1,0.015],[26.3,0.007],[26.5,0.015],[26.7,0.011],[26.9,0.028],[27.0,0.022]];

// ---------- insets ----------
const eInsetRed = [[2.5,0.6],[2.7,0.6],[2.85,1.5],[2.9,4.2],[2.94,5],[2.97,3.6],[3.01,4.7],[3.04,6],[3.06,5],[3.11,2.7],[3.16,2.4],[3.22,2.7],[3.28,6],[3.32,8.7],[3.35,27],[3.37,63],[3.4,98],[3.42,99],[3.44,81],[3.46,55],[3.49,81],[3.51,89],[3.54,72],[3.57,45],[3.6,18],[3.63,10.5],[3.67,9],[3.72,6],[3.78,3.3],[3.84,1.5],[3.9,0.6],[4.0,0.4],[4.2,0.4],[4.5,0.35]];
const eInsetPurple = [[2.5,0.5],[2.7,0.5],[2.85,1],[2.9,3],[2.94,3.5],[2.98,2.5],[3.04,4],[3.1,1.5],[3.2,0.5],[3.28,2],[3.32,3],[3.35,5],[3.37,20],[3.4,85],[3.42,100],[3.44,70],[3.46,45],[3.48,32],[3.5,80],[3.52,88],[3.55,75],[3.58,40],[3.6,20],[3.64,15],[3.68,10.5],[3.72,14],[3.76,9],[3.8,5],[3.85,1.5],[3.9,0.5],[4.2,0.5],[4.5,0.5]];
const fInsetPurple = [[3.1,0.7],[3.4,0.7],[3.6,0.8],[3.66,1.2],[3.7,3.7],[3.72,11],[3.73,12],[3.75,3.7],[3.77,6],[3.79,13.7],[3.82,45],[3.84,56],[3.86,55],[3.88,52],[3.9,23.6],[3.92,20],[3.94,38.5],[3.96,43.5],[3.98,42],[4.0,35],[4.02,13.7],[4.04,6],[4.08,5],[4.12,4.3],[4.17,4.3],[4.21,3.1],[4.28,1.9],[4.34,1.2],[4.4,0.6],[4.6,0.4],[5.0,0.3]];
const fInsetRed = [[3.1,0.5],[3.4,0.5],[3.65,0.6],[3.69,1.2],[3.73,1.9],[3.77,3.1],[3.8,11],[3.83,15.5],[3.85,15.3],[3.88,12.4],[3.91,11],[3.94,12.7],[3.96,12.2],[3.99,8.7],[4.02,4.3],[4.05,1.9],[4.12,1.2],[4.21,0.6],[4.5,0.4],[5.0,0.3]];

// ---------- texts ----------
const X_TITLE = '{b|2}{r|θ (°)}';
const Y_TITLE = '{b|S(θ)}{r| (a.u.)}';
const PANEL_C = 'PTTP-Hex';
const PANEL_D = 'PTTP-TEG';

// ---------- layout (pixels) ----------
const GRIDS = [
  { left: 177, top: -657, width: 704, height: 695 }, // a (cut off)
  { left: 881, top: -657, width: 704, height: 695 }, // b (cut off)
  { left: 177, top: 286, width: 704, height: 695 },  // c
  { left: 881, top: 286, width: 704, height: 695 },  // d
  { left: 200, top: 1227, width: 705, height: 697 }, // e
  { left: 905, top: 1227, width: 705, height: 697 }, // f
  { left: 495, top: 1227, width: 411, height: 326 }, // e inset
  { left: 1248, top: 1227, width: 384, height: 333 }, // f inset
];

const logFmt = (v: number) => {
  const e = Math.round(Math.log10(v));
  return e >= 0 ? String(Math.pow(10, e)) : Math.pow(10, e).toFixed(-e);
};

type Spec = {
  grid: number; min: number; max: number; major: number[]; minor: number[];
  labels: boolean; labelValues?: number[]; log?: boolean; fmt?: (v: number) => string;
  fontSize?: number; margin?: number; majorLen?: number; minorLen?: number;
};

function axisPair(dim: 'x' | 'y', s: Spec) {
  const base: any = {
    gridIndex: s.grid,
    type: s.log ? 'log' : 'value',
    min: s.min,
    max: s.max,
    position: dim === 'x' ? 'bottom' : 'left',
    splitLine: { show: false },
    silent: true,
  };
  if (s.log) base.logBase = 10;
  const main = {
    ...base,
    axisLine: { show: true, onZero: false, lineStyle: { color: '#000', width: 3.5 } },
    axisTick: { show: true, inside: false, length: s.majorLen ?? 16, lineStyle: { color: '#000', width: 3.5 }, customValues: s.major },
    axisLabel: {
      show: s.labels,
      customValues: s.labelValues ?? s.major,
      margin: s.margin ?? (dim === 'x' ? 26 : 28),
      fontSize: s.fontSize ?? 53,
      fontWeight: 'bold',
      fontFamily: FONT,
      color: '#000',
      formatter: s.fmt ?? ((v: number) => String(v)),
    },
  };
  const minor = {
    ...base,
    axisLine: { show: false, onZero: false },
    axisTick: { show: true, inside: false, length: s.minorLen ?? 8, lineStyle: { color: '#000', width: 3 }, customValues: s.minor },
    axisLabel: { show: false },
  };
  return [main, minor];
}

function errRender(color: string) {
  return (params: any, api: any) => {
    const x = api.value(0), y = api.value(1), e = api.value(2);
    const p1 = api.coord([x, y + e]);
    const p2 = api.coord([x, y - e]);
    const w = 5;
    const st = { stroke: color, lineWidth: 2 };
    return {
      type: 'group',
      children: [
        { type: 'line', shape: { x1: p1[0], y1: p1[1], x2: p2[0], y2: p2[1] }, style: st },
        { type: 'line', shape: { x1: p1[0] - w, y1: p1[1], x2: p1[0] + w, y2: p1[1] }, style: st },
        { type: 'line', shape: { x1: p2[0] - w, y1: p2[1], x2: p2[0] + w, y2: p2[1] }, style: st },
      ],
    };
  };
}

function lineSeries(axis: number, data: number[][], color: string, width: number, z = 3) {
  return {
    type: 'line', xAxisIndex: axis, yAxisIndex: axis, data, showSymbol: false, symbol: 'none',
    lineStyle: { color, width, join: 'round', cap: 'round' }, itemStyle: { color }, z, clip: true, silent: true,
  };
}
function errSeries(axis: number, data: number[][], color: string) {
  return {
    type: 'custom', xAxisIndex: axis, yAxisIndex: axis, coordinateSystem: 'cartesian2d',
    encode: { x: 0, y: 1 }, data, renderItem: errRender(color), z: 2, silent: true, clip: true,
  };
}

function text(x: number, y: number, str: string, size: number, opts: any = {}) {
  return {
    type: 'text', x, y, rotation: opts.rotation ?? 0, z: 100, silent: true,
    style: {
      text: str,
      fill: '#000',
      fontFamily: FONT,
      fontSize: size,
      lineHeight: size,
      fontWeight: opts.weight ?? 'bold',
      align: opts.align ?? 'center',
      verticalAlign: 'middle',
      textAlign: opts.align ?? 'center',
      textVerticalAlign: 'middle',
      rich: {
        b: { fontFamily: FONT, fontSize: size, lineHeight: size, fontWeight: 'bold', fill: '#000' },
        r: { fontFamily: FONT, fontSize: size, lineHeight: size, fontWeight: 'normal', fill: '#000' },
      },
    },
  };
}

function buildOption() {
  const xAxes: any[] = [];
  const yAxes: any[] = [];
  const lin = (g: number, labels: boolean, labelValues?: number[]) => {
    xAxes.push(...axisPair('x', { grid: g, min: 0, max: 32.5, major: xMajor, minor: xMinor, labels: true }));
    yAxes.push(...axisPair('y', { grid: g, min: 20, max: 90, major: linMajor, minor: linMinor, labels, labelValues }));
  };
  const lg = (g: number, labels: boolean) => {
    xAxes.push(...axisPair('x', { grid: g, min: 0, max: 32.5, major: xMajor, minor: xMinor, labels: true }));
    yAxes.push(...axisPair('y', { grid: g, min: 0.001, max: 500, major: logMajor, minor: logMinor, labels, log: true, fmt: logFmt }));
  };
  lin(0, true, topPanelLabels);
  lin(1, false);
  lin(2, true);
  lin(3, false);
  lg(4, true);
  lg(5, false);
  // e inset
  xAxes.push(...axisPair('x', { grid: 6, min: 2.5, max: 4.5, major: eInsetXMajor, minor: eInsetXMinor, labels: true, fontSize: 47, margin: 13, majorLen: 12, minorLen: 7 }));
  yAxes.push(...axisPair('y', { grid: 6, min: 0, max: 100, major: eInsetYMajor, minor: eInsetYMinor, labels: true, fontSize: 47, margin: 14, majorLen: 12, minorLen: 7 }));
  // f inset
  xAxes.push(...axisPair('x', { grid: 7, min: 3.1, max: 5.0, major: fInsetXMajor, minor: fInsetXMinor, labels: true, fontSize: 47, margin: 13, majorLen: 12, minorLen: 7, fmt: (v: number) => v.toFixed(1) }));
  yAxes.push(...axisPair('y', { grid: 7, min: 0, max: 70, major: fInsetYMajor, minor: fInsetYMinor, labels: true, fontSize: 47, margin: 14, majorLen: 12, minorLen: 7 }));

  const grids = GRIDS.map((g, i) => ({
    ...g,
    show: i < 6,
    borderColor: '#000',
    borderWidth: 3.5,
    backgroundColor: i >= 6 ? '#fff' : 'transparent',
    containLabel: false,
    outerBoundsMode: 'none',
    z: i >= 6 ? 5 : 0,
  }));

  const C = 4, D = 6, E = 8, F = 10, EI = 12, FI = 14;
  const LW = 6.5;
  const series: any[] = [
    errSeries(C, cGreenErr, E_GREEN), errSeries(C, cBlueErr, E_BLUE), errSeries(C, cPurpleErr, E_PURPLE),
    lineSeries(C, cGreen, C_GREEN, LW), lineSeries(C, cBlue, C_BLUE, LW), lineSeries(C, cPurple, C_PURPLE, LW),
    errSeries(D, dGreenErr, E_GREEN), errSeries(D, dBlueErr, E_BLUE), errSeries(D, dPurpleErr, E_PURPLE),
    errSeries(D, dYellowErr, E_YELLOW), errSeries(D, dRedErr, E_RED),
    lineSeries(D, dGreen, C_GREEN, LW), lineSeries(D, dBlue, C_BLUE, LW), lineSeries(D, dPurple, C_PURPLE, LW),
    lineSeries(D, dYellow, C_YELLOW, LW), lineSeries(D, dRed, C_RED, LW),
    lineSeries(E, ePurple, C_PURPLE, 6), lineSeries(E, eRed, C_RED, 5.5),
    lineSeries(F, fPurple, C_PURPLE, 6), lineSeries(F, fRed, C_RED, 5.5),
    lineSeries(EI, eInsetPurple, C_PURPLE, 9, 6), lineSeries(EI, eInsetRed, C_RED, 5.5, 7),
    lineSeries(FI, fInsetPurple, C_PURPLE, 9, 6), lineSeries(FI, fInsetRed, C_RED, 5.5, 7),
  ];

  const graphic = [
    text(528, 198, X_TITLE, 78), text(1233, 198, X_TITLE, 78),
    text(528, 1140, X_TITLE, 78), text(1233, 1140, X_TITLE, 78),
    text(551, 2072, X_TITLE, 78), text(1257, 2072, X_TITLE, 78),
    text(45, 633, Y_TITLE, 76, { rotation: Math.PI / 2 }),
    text(45, 1557, Y_TITLE, 76, { rotation: Math.PI / 2 }),
    text(227, 352, '{b|c}{r|)}', 68, { align: 'left' }),
    text(513, 343, PANEL_C, 68, { align: 'left' }),
    text(931, 347, '{b|d}{r|)}', 68, { align: 'left' }),
    text(1216, 335, PANEL_D, 68, { align: 'left' }),
    text(227, 1297, '{b|e}{r|)}', 68, { align: 'left' }),
    text(932, 1297, '{b|f}{r|)}', 68, { align: 'left' }),
    text(247, 1852, PANEL_C, 68, { align: 'left' }),
    text(963, 1848, PANEL_D, 68, { align: 'left' }),
    text(700, 1648, X_TITLE, 50),
    text(1430, 1654, X_TITLE, 50),
    text(393, 1390, Y_TITLE, 50, { rotation: Math.PI / 2 }),
    text(1148, 1395, Y_TITLE, 50, { rotation: Math.PI / 2 }),
  ];

  return {
    animation: false,
    backgroundColor: '#fff',
    textStyle: { fontFamily: FONT },
    grid: grids,
    xAxis: xAxes,
    yAxis: yAxes,
    series,
    graphic,
    tooltip: { show: false },
  };
}

export default function App() {
  const ref = useRef<HTMLDivElement>(null);
  useEffect(() => {
    if (!ref.current) return;
    const chart = echarts.init(ref.current, undefined, { renderer: 'svg' });
    chart.setOption(buildOption() as any);
    return () => chart.dispose();
  }, []);
  return (
    <div style={{ position: 'absolute', left: 0, top: 0, width: 1584, height: 2125, overflow: 'hidden', background: '#fff' }}>
      <div ref={ref} style={{ width: 1584, height: 2125 }} />
    </div>
  );
}
